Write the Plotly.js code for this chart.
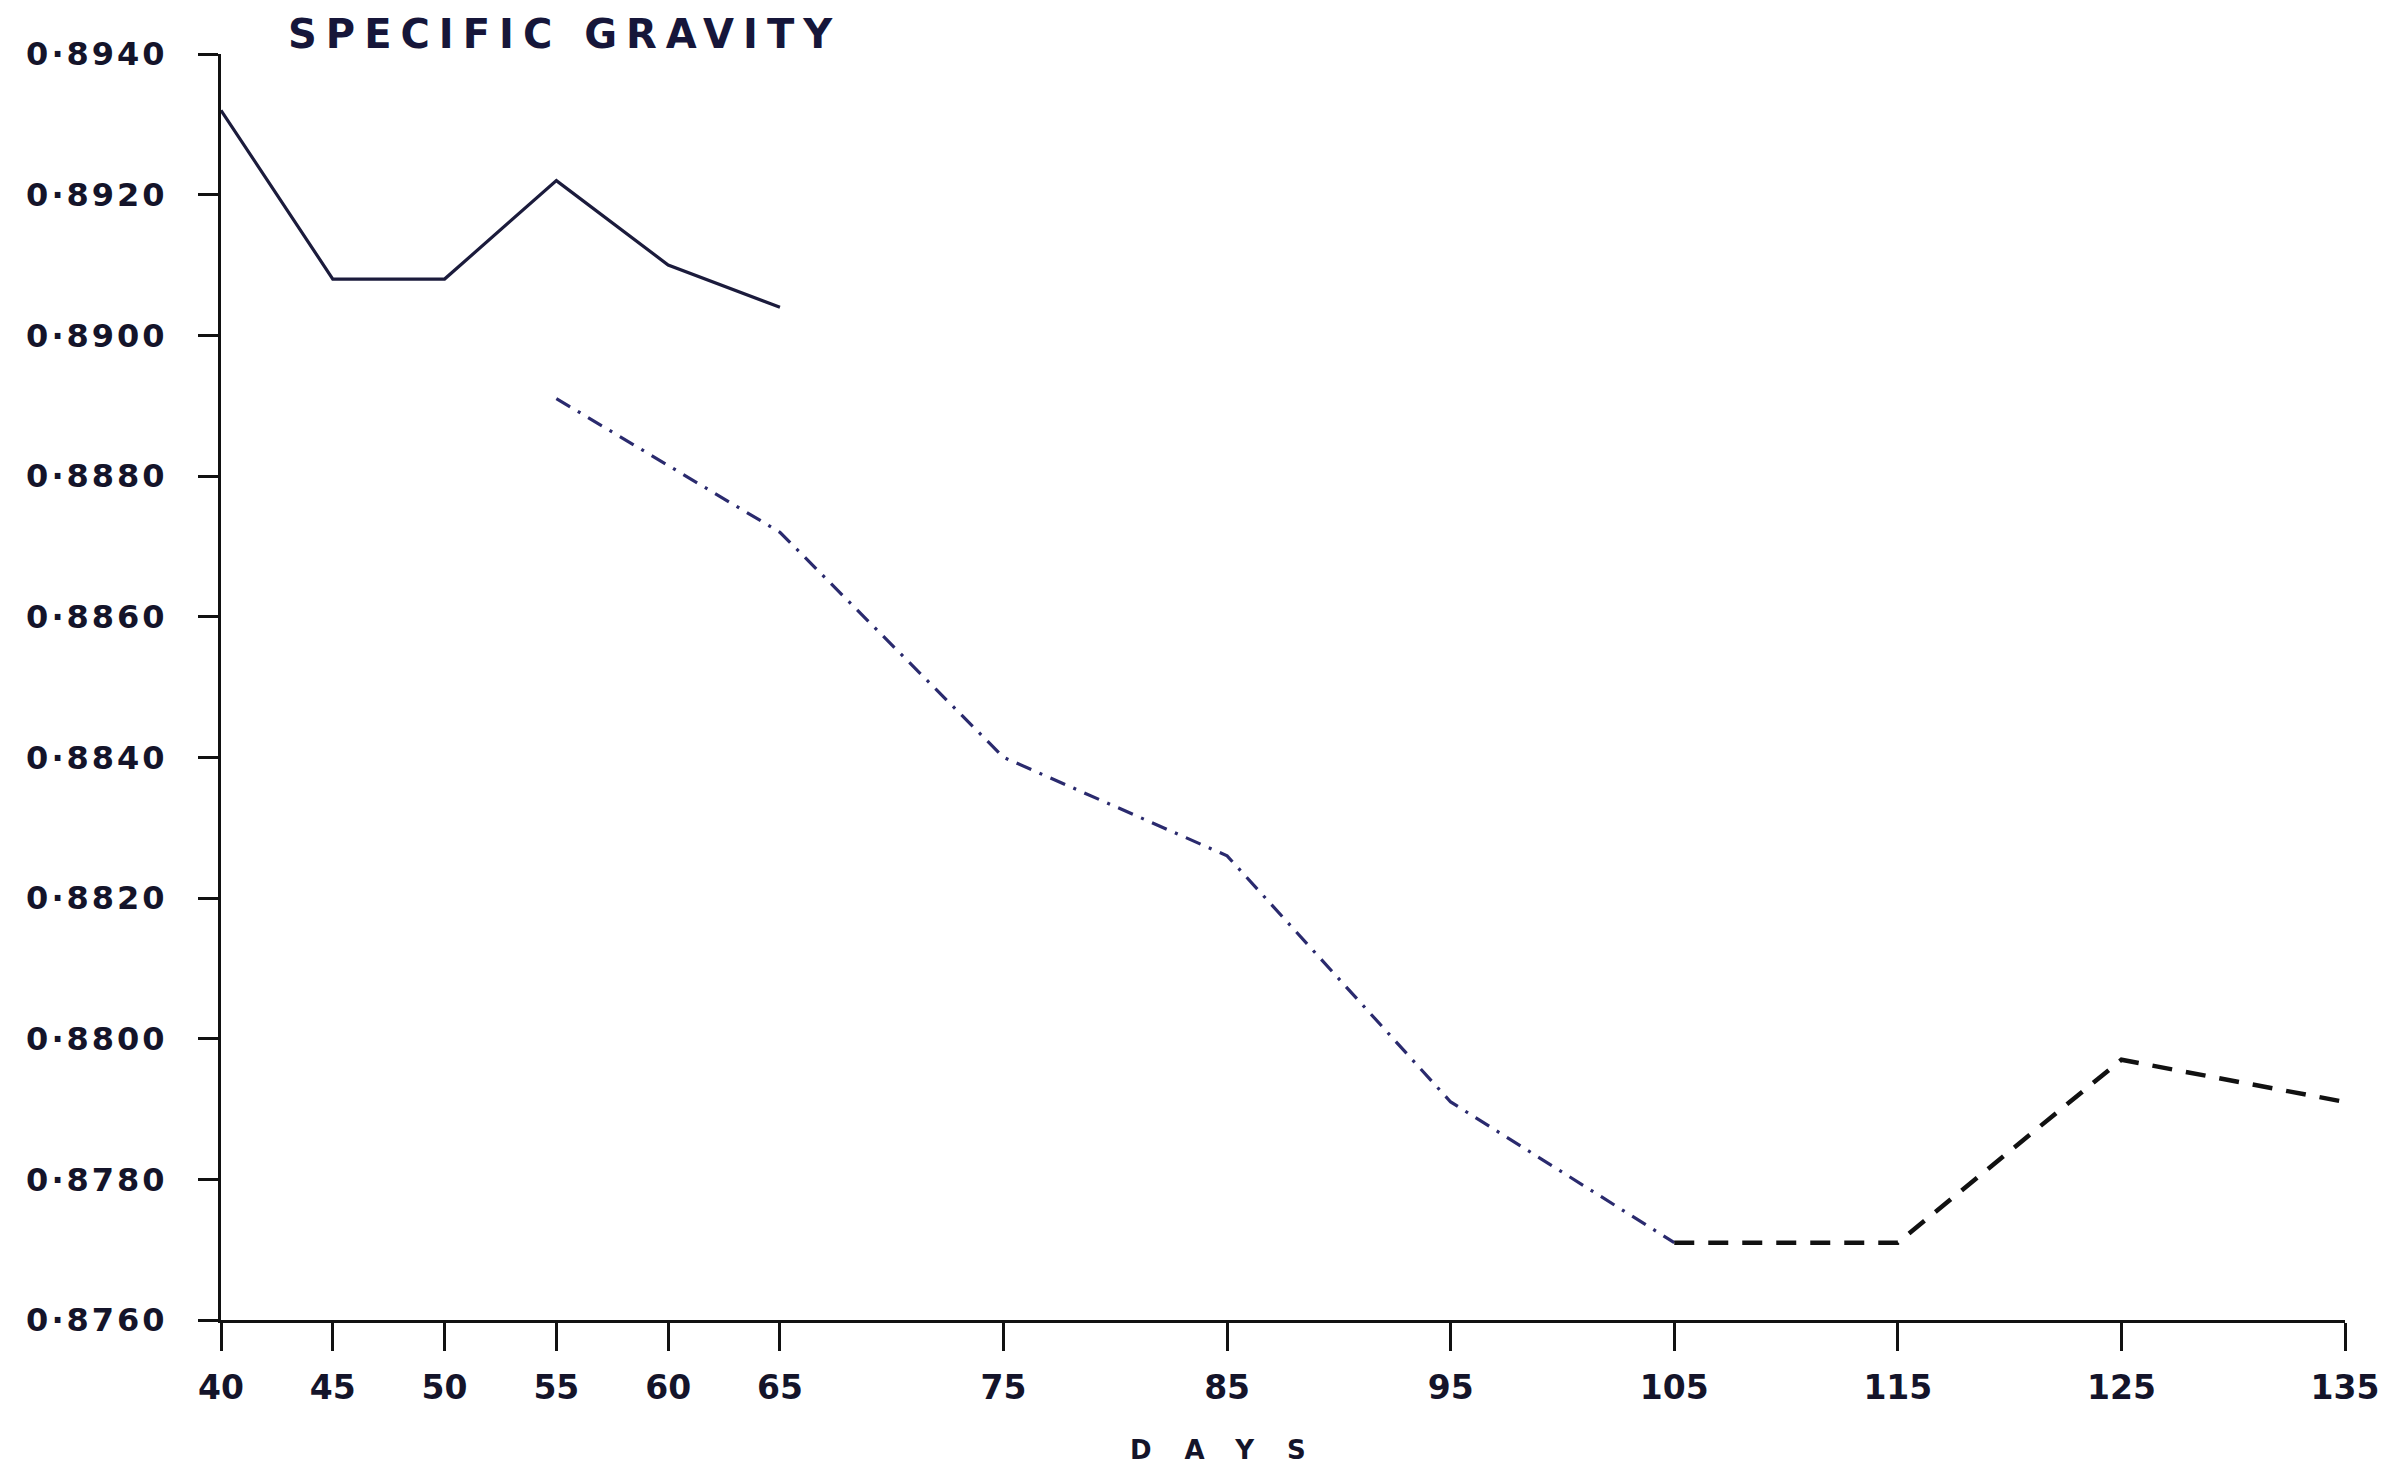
<!DOCTYPE html>
<html>
<head>
<meta charset="utf-8">
<script src="https://cdn.plot.ly/plotly-3.0.1.min.js"></script>
<style>
  html, body { margin: 0; padding: 0; background: #ffffff; }
  #chart { width: 2406px; height: 1476px; }
  .gtitle { letter-spacing: 9px; }
  .annotation-text { letter-spacing: 33px; }
  .ytick text { letter-spacing: 3px; }
</style>
</head>
<body>
<div id="chart"></div>
<script>
// ---- data ----
const solidDays = [40, 45, 50, 55, 60, 65];
const solidGravity = [0.8932, 0.8908, 0.8908, 0.8922, 0.8910, 0.8904];

const dashDotDays = [55, 65, 75, 85, 95, 105];
const dashDotGravity = [0.8891, 0.8872, 0.8840, 0.8826, 0.8791, 0.8771];

const dashedDays = [105, 115, 125, 135];
const dashedGravity = [0.8771, 0.8771, 0.8797, 0.8791];

const xTickVals = [40, 45, 50, 55, 60, 65, 75, 85, 95, 105, 115, 125, 135];
const xTickText = ['40', '45', '50', '55', '60', '65', '75', '85', '95', '105', '115', '125', '135'];
const yTickVals = [0.8760, 0.8780, 0.8800, 0.8820, 0.8840, 0.8860, 0.8880, 0.8900, 0.8920, 0.8940];
const yTickText = ['0·8760', '0·8780', '0·8800', '0·8820', '0·8840', '0·8860', '0·8880', '0·8900', '0·8920', '0·8940'];

const FONT = 'DejaVu Sans, sans-serif';
const INK = '#14142a';

const traces = [
  {
    x: solidDays, y: solidGravity, type: 'scatter', mode: 'lines',
    line: { color: '#1b1b3c', width: 3.2, dash: 'solid' },
    cliponaxis: false, showlegend: false, name: 'solid'
  },
  {
    x: dashDotDays, y: dashDotGravity, type: 'scatter', mode: 'lines',
    line: { color: '#2a2a6e', width: 3.2, dash: '16px,9px,3px,9px' },
    cliponaxis: false, showlegend: false, name: 'dash-dot'
  },
  {
    x: dashedDays, y: dashedGravity, type: 'scatter', mode: 'lines',
    line: { color: '#111111', width: 4.5, dash: '20px,14px' },
    cliponaxis: false, showlegend: false, name: 'dashed'
  }
];

const layout = {
  width: 2406, height: 1476,
  margin: { l: 221, r: 61, t: 54, b: 156, pad: 0 },
  paper_bgcolor: '#ffffff', plot_bgcolor: '#ffffff',
  font: { family: FONT, color: INK },
  title: {
    text: 'SPECIFIC GRAVITY',
    font: { family: FONT, size: 40, color: '#16163a', weight: 'bold' },
    xref: 'container', x: 288 / 2406, xanchor: 'left',
    yref: 'container', y: 1 - 34 / 1476, yanchor: 'middle'
  },
  xaxis: {
    range: [40, 135],
    tickmode: 'array', tickvals: xTickVals, ticktext: xTickText,
    showgrid: false, zeroline: false,
    showline: true, linecolor: '#111111', linewidth: 3,
    ticks: 'outside', ticklen: 28, tickwidth: 3, tickcolor: '#111111',
    ticklabelstandoff: 8,
    tickfont: { family: FONT, size: 33, color: INK, weight: 'bold' },
    automargin: false
  },
  yaxis: {
    range: [0.8760, 0.8940],
    tickmode: 'array', tickvals: yTickVals, ticktext: yTickText,
    showgrid: false, zeroline: false,
    showline: true, linecolor: '#111111', linewidth: 3,
    ticks: 'outside', ticklen: 20, tickwidth: 3, tickcolor: '#111111',
    ticklabelstandoff: 24,
    tickfont: { family: FONT, size: 32, color: INK, weight: 'bold' },
    automargin: false
  },
  annotations: [
    {
      text: 'DAYS', showarrow: false,
      xref: 'paper', x: 0.4774, xanchor: 'center',
      yref: 'paper', y: -0.1027, yanchor: 'middle',
      font: { family: FONT, size: 26, color: INK, weight: 'bold' }
    }
  ],
  showlegend: false
};

Plotly.newPlot('chart', traces, layout, { staticPlot: true, displayModeBar: false });
</script>
</body>
</html>
